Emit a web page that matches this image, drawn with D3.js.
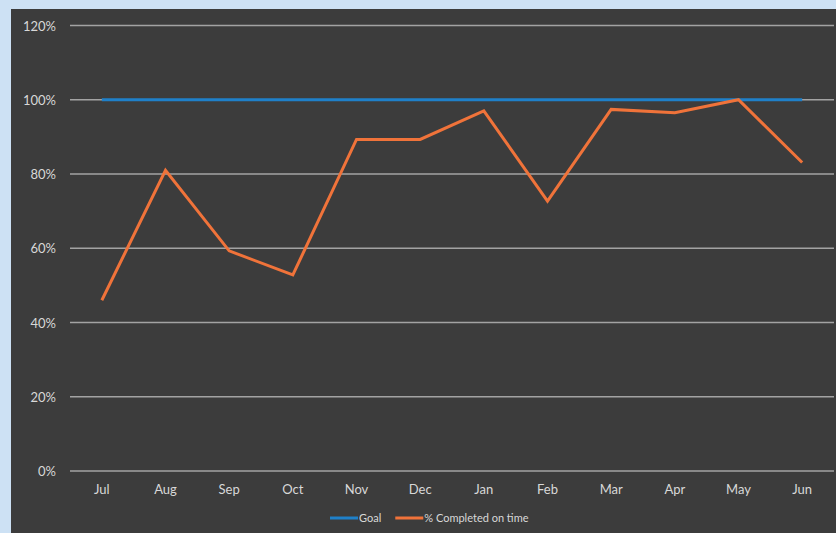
<!DOCTYPE html>
<html>
<head>
<meta charset="utf-8">
<script src="https://cdn.jsdelivr.net/npm/d3@7"></script>
<style>
  html, body { margin: 0; padding: 0; background: #c9dff2; }
  svg { display: block; }
</style>
</head>
<body>
<svg id="chart" width="836" height="533"></svg>
<script>
// Monthly on-time completion vs. goal
const months = ["Jul", "Aug", "Sep", "Oct", "Nov", "Dec", "Jan", "Feb", "Mar", "Apr", "May", "Jun"];
const goal = [1, 1, 1, 1, 1, 1, 1, 1, 1, 1, 1, 1];
const completedOnTime = [0.46, 0.81, 0.593, 0.528, 0.893, 0.893, 0.97, 0.727, 0.974, 0.965, 1.0, 0.831];
const yTicks = [0, 0.2, 0.4, 0.6, 0.8, 1.0, 1.2];
const legendItems = [
  { name: "Goal", color: "#1f80c9" },
  { name: "% Completed on time", color: "#f0733a" }
];

const svg = d3.select("#chart");
const W = 836, H = 533;
const font = "Lato, 'Open Sans', sans-serif";
const textColor = "#d8d8d8";

// backdrop: light frame on the left/top, dark chart panel
svg.append("rect").attr("x", 0).attr("y", 0).attr("width", W).attr("height", H).attr("fill", "#cde1f4");
svg.append("rect").attr("x", 11).attr("y", 9).attr("width", W - 11).attr("height", H - 9).attr("fill", "#3c3c3c");

const plot = { left: 70, right: 834, top: 25.5, bottom: 471 };

const x = d3.scaleBand().domain(months).range([plot.left, plot.right]);
const y = d3.scaleLinear().domain([0, 1.2]).range([plot.bottom, plot.top]);

// horizontal gridlines
svg.append("g")
  .selectAll("line")
  .data(yTicks)
  .join("line")
  .attr("x1", plot.left).attr("x2", plot.right)
  .attr("y1", d => y(d)).attr("y2", d => y(d))
  .attr("stroke", "#a3a3a3").attr("stroke-width", 1.5);

// y axis labels
const yAxis = d3.axisLeft(y).tickValues(yTicks).tickFormat(d3.format(".0%")).tickSize(0).tickPadding(0);
const gy = svg.append("g").attr("transform", `translate(56,0)`).call(yAxis);
gy.select(".domain").remove();
gy.selectAll("text").attr("fill", textColor).style("font-family", font).style("font-size", "13px").attr("dy", "0.35em");

// x axis labels
const xAxis = d3.axisBottom(x).tickSize(0).tickPadding(0);
const gx = svg.append("g").attr("transform", `translate(0,485)`).call(xAxis);
gx.select(".domain").remove();
gx.selectAll("text").attr("fill", textColor).style("font-family", font).style("font-size", "13px").attr("dy", "0.71em");

const cx = d => x(d) + x.bandwidth() / 2;
const line = d3.line().x((d, i) => cx(months[i])).y(d => y(d));

svg.append("path").datum(goal).attr("d", line)
  .attr("fill", "none").attr("stroke", legendItems[0].color).attr("stroke-width", 3);

svg.append("path").datum(completedOnTime).attr("d", line)
  .attr("fill", "none").attr("stroke", legendItems[1].color).attr("stroke-width", 3)
  .attr("stroke-linejoin", "miter");

// legend
const legend = svg.append("g").attr("transform", "translate(330,518)");
let lx = 0;
legendItems.forEach(item => {
  legend.append("line").attr("x1", lx).attr("x2", lx + 28).attr("y1", 0).attr("y2", 0)
    .attr("stroke", item.color).attr("stroke-width", 3);
  const t = legend.append("text").attr("x", lx + 29).attr("y", 0).attr("dy", "0.35em")
    .attr("fill", textColor).style("font-family", font).style("font-size", "11px").text(item.name);
  lx += 29 + t.node().getComputedTextLength() + 14;
});
</script>
</body>
</html>
